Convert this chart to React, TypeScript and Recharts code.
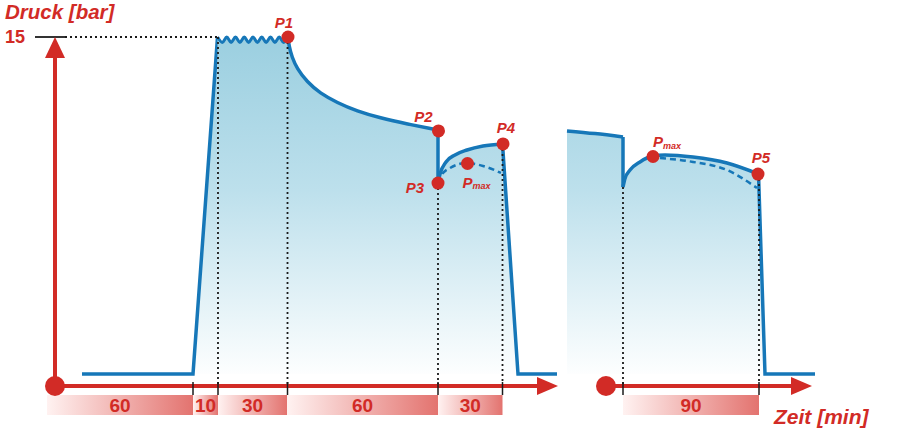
import React from 'react';
import {
  ComposedChart,
  Area,
  Line,
  Scatter,
  XAxis,
  YAxis,
  ReferenceArea,
  ReferenceDot,
} from 'recharts';

// ---------- data (x: schematic time position along the axis, p: pressure in bar) ----------
const leftRise = [
  { x: 27, p: 0 },
  { x: 138, p: 0 },
  { x: 162.5, p: 15 },
];
const leftPlateau = [
  { x: 162.5, p: 15 }, { x: 167.4, p: 14.76 }, { x: 171.75, p: 15 }, { x: 176.1, p: 14.76 },
  { x: 180.5, p: 15 }, { x: 184.9, p: 14.76 }, { x: 189.25, p: 15 }, { x: 193.6, p: 14.76 },
  { x: 198, p: 15 }, { x: 202.4, p: 14.76 }, { x: 206.75, p: 15 }, { x: 211.1, p: 14.76 },
  { x: 215.5, p: 15 }, { x: 219.9, p: 14.76 }, { x: 224.25, p: 15 }, { x: 228.6, p: 14.76 },
  { x: 233, p: 15 },
];
const leftDecay = [
  { x: 233, p: 15 }, { x: 234, p: 14.6 }, { x: 237, p: 14.1 }, { x: 242, p: 13.6 },
  { x: 252, p: 13.0 }, { x: 265, p: 12.5 }, { x: 282, p: 12.08 }, { x: 302, p: 11.7 },
  { x: 325, p: 11.4 }, { x: 352, p: 11.13 }, { x: 383, p: 10.86 },
];
const leftDrop = [
  { x: 383, p: 10.86 },
  { x: 383, p: 8.5 },
];
const leftRecover = [
  { x: 383, p: 8.5 }, { x: 385, p: 8.9 }, { x: 391, p: 9.44 }, { x: 400, p: 9.75 },
  { x: 412, p: 9.97 }, { x: 428, p: 10.15 }, { x: 447.5, p: 10.24 },
];
const leftRelease = [
  { x: 447.5, p: 10.24 },
  { x: 463, p: 0 },
  { x: 502, p: 0 },
];
const leftDashed = [
  { x: 383, p: 8.5 }, { x: 386, p: 8.82 }, { x: 395, p: 9.17 }, { x: 412, p: 9.39 },
  { x: 428, p: 9.26 }, { x: 446, p: 8.95 },
];

const rightTop = [
  { x: 512, p: 10.82 },
  { x: 540, p: 10.7 },
  { x: 568, p: 10.55 },
];
const rightDrop = [
  { x: 568, p: 10.55 },
  { x: 568, p: 8.32 },
];
const rightRecover = [
  { x: 568, p: 8.32 }, { x: 570, p: 8.7 }, { x: 575, p: 9.08 }, { x: 585, p: 9.44 },
  { x: 598, p: 9.7 }, { x: 610, p: 9.75 }, { x: 638, p: 9.66 }, { x: 672, p: 9.39 },
  { x: 703.5, p: 8.9 },
];
const rightRelease = [
  { x: 703.5, p: 8.9 },
  { x: 710, p: 0 },
  { x: 760, p: 0 },
];
const rightDashed = [
  { x: 605, p: 9.61 }, { x: 638, p: 9.44 }, { x: 672, p: 9.08 }, { x: 702, p: 8.28 },
];

const namedPoints = [
  { name: 'P1', x: 233, p: 15 },
  { name: 'P2', x: 383.5, p: 10.82 },
  { name: 'P3', x: 383, p: 8.5 },
  { name: 'P4', x: 448, p: 10.24 },
  { name: 'P5', x: 703, p: 8.9 },
];
const maxPoints = [
  { name: 'Pmax-left', x: 412.5, p: 9.37 },
  { name: 'Pmax-right', x: 598, p: 9.68 },
];

const phaseBounds = [-8, 138, 163, 232, 383, 447.5];
const phaseLabels = ['60', '10', '30', '60', '30'];
const rightPhase = { from: 568, to: 704, label: '90' };

const dividers = [
  { x: 163, top: 15 },
  { x: 232.5, top: 15 },
  { x: 383, top: 8.5 },
  { x: 447.5, top: 10.24 },
  { x: 568, top: 8.32 },
  { x: 704, top: 8.9 },
];
const tickXs = [138, 163, 232.5, 383, 447.5, 568, 704];

const pressureTick = 15;
const axisLevel = -0.534;
const leftAxisEnd = 503;
const rightOrigin = 551;
const rightAxisEnd = 757;

// ---------- styles ----------
const FONT = '"Liberation Sans", Arial, Helvetica, sans-serif';
const RED = '#d22b26';
const BLUE = '#1677b8';
const LABEL_OFFSETS: Record<string, [number, number]> = {
  P1: [-4, -15],
  P2: [-15, -14],
  P3: [-23, 4],
  P4: [3, -16],
  P5: [3, -17],
};

const W = 901;
const H = 443;

const areaProps = {
  dataKey: 'p',
  stroke: BLUE,
  strokeWidth: 3.5,
  fill: 'url(#pressFill)',
  fillOpacity: 1,
  baseValue: 0,
  isAnimationActive: false,
  dot: false,
  activeDot: false,
} as const;

const pointShape = (props: any) => {
  const { cx, cy, payload } = props;
  const off = LABEL_OFFSETS[payload.name] || [0, 0];
  return (
    <g>
      <circle cx={cx} cy={cy} r={6.5} fill={RED} />
      <text
        x={cx + off[0]}
        y={cy + off[1]}
        textAnchor="middle"
        dominantBaseline="central"
        fontFamily={FONT}
        fontWeight="bold"
        fontStyle="italic"
        fontSize={15}
        fill={RED}
      >
        {payload.name}
      </text>
    </g>
  );
};

const maxShape = (props: any) => {
  const { cx, cy, payload } = props;
  const left = payload.name === 'Pmax-left';
  const tx = left ? cx - 5 : cx + 0;
  const ty = left ? cy + 19 : cy - 15;
  return (
    <g>
      <circle cx={cx} cy={cy} r={6.5} fill={RED} />
      <text
        x={tx}
        y={ty}
        dominantBaseline="central"
        fontFamily={FONT}
        fontWeight="bold"
        fontStyle="italic"
        fontSize={15}
        fill={RED}
      >
        P
        <tspan fontSize={9} dy={4}>max</tspan>
      </text>
    </g>
  );
};

const textShape = (text: string, size: number, anchor: string, italic: boolean) => (props: any) => (
  <text
    x={props.cx}
    y={props.cy}
    textAnchor={anchor as any}
    fontFamily={FONT}
    fontWeight="bold"
    fontStyle={italic ? 'italic' : 'normal'}
    fontSize={size}
    fill={RED}
  >
    {text}
  </text>
);

const upArrow = (props: any) => {
  const { cx, cy } = props;
  return <polygon points={`${cx},${cy} ${cx - 10},${cy + 21} ${cx + 10},${cy + 21}`} fill={RED} />;
};
const rightArrow = (props: any) => {
  const { cx, cy } = props;
  return <polygon points={`${cx},${cy} ${cx - 21},${cy - 9} ${cx - 21},${cy + 9}`} fill={RED} />;
};

const segLine = (key: string, data: { x: number; p: number }[], stroke: string, width: number, dash?: string) => (
  <Line
    key={key}
    data={data}
    dataKey="p"
    type="linear"
    stroke={stroke}
    strokeWidth={width}
    strokeDasharray={dash}
    dot={false}
    activeDot={false}
    isAnimationActive={false}
  />
);

export default function App() {
  const phases = phaseLabels.map((label, i) => ({
    from: phaseBounds[i],
    to: phaseBounds[i + 1],
    label,
  }));
  phases.push(rightPhase);

  return (
    <div style={{ position: 'absolute', left: 0, top: 0, width: W, height: H, background: '#fff' }}>
      <ComposedChart width={W} height={H} margin={{ top: 0, right: 0, bottom: 0, left: 0 }}>
        <defs>
          <linearGradient id="pressFill" gradientUnits="userSpaceOnUse" x1="0" y1="37" x2="0" y2="380">
            <stop offset="0" stopColor="#9bcfe0" />
            <stop offset="0.45" stopColor="#bde0ec" />
            <stop offset="1" stopColor="#ffffff" />
          </linearGradient>
          <linearGradient id="barFill" x1="0" y1="0" x2="1" y2="0">
            <stop offset="0" stopColor="#fff2f1" />
            <stop offset="1" stopColor="#e3736f" />
          </linearGradient>
        </defs>
        <XAxis type="number" dataKey="x" domain={[-55, 846]} hide allowDataOverflow />
        <YAxis type="number" dataKey="p" domain={[-3.0712, 16.647]} hide allowDataOverflow />

        {phases.map((ph, i) => (
          <ReferenceArea
            key={'ph' + i}
            x1={ph.from}
            x2={ph.to}
            y1={-0.935}
            y2={-1.825}
            fill="url(#barFill)"
            fillOpacity={1}
            stroke="none"
            ifOverflow="visible"
            label={{ value: ph.label, position: 'center', fill: RED, fontSize: 19, fontWeight: 'bold', fontFamily: FONT }}
          />
        ))}

        <Area data={leftRise} type="linear" {...areaProps} />
        <Area data={leftPlateau} type="monotone" {...areaProps} strokeWidth={3} />
        <Area data={leftDecay} type="basis" {...areaProps} />
        <Area data={leftDrop} type="linear" {...areaProps} />
        <Area data={leftRecover} type="monotone" {...areaProps} />
        <Area data={leftRelease} type="linear" {...areaProps} />
        <Area data={rightTop} type="monotone" {...areaProps} />
        <Area data={rightDrop} type="linear" {...areaProps} />
        <Area data={rightRecover} type="monotone" {...areaProps} />
        <Area data={rightRelease} type="linear" {...areaProps} />

        <Line data={leftDashed} dataKey="p" type="monotone" stroke={BLUE} strokeWidth={2.5} strokeDasharray="6 4" dot={false} activeDot={false} isAnimationActive={false} />
        <Line data={rightDashed} dataKey="p" type="monotone" stroke={BLUE} strokeWidth={2.5} strokeDasharray="6 4" dot={false} activeDot={false} isAnimationActive={false} />

        {dividers.map((d, i) =>
          segLine('dv' + i, [{ x: d.x, p: d.top }, { x: d.x, p: axisLevel }], '#1a1a1a', 1.8, '2 3')
        )}
        {segLine('hl15', [{ x: 10, p: pressureTick }, { x: 163, p: pressureTick }], '#1a1a1a', 1.8, '2 3')}
        {segLine('tk15', [{ x: -20, p: pressureTick }, { x: 10, p: pressureTick }], '#333', 2)}

        {/* axes */}
        {segLine('yax', [{ x: 0, p: axisLevel }, { x: 0, p: 14.2 }], RED, 4)}
        {segLine('xax1', [{ x: 0, p: axisLevel }, { x: leftAxisEnd - 18, p: axisLevel }], RED, 4)}
        {segLine('xax2', [{ x: rightOrigin, p: axisLevel }, { x: rightAxisEnd - 18, p: axisLevel }], RED, 4)}

        {tickXs.map((t, i) => segLine('tk' + i, [{ x: t, p: -0.356 }, { x: t, p: -0.935 }], '#1a1a1a', 1.5))}

        <Scatter data={namedPoints} dataKey="p" shape={pointShape} isAnimationActive={false} />
        <Scatter data={maxPoints} dataKey="p" shape={maxShape} isAnimationActive={false} />

        <ReferenceDot x={0} y={pressureTick} r={0} shape={upArrow} ifOverflow="visible" />
        <ReferenceDot x={leftAxisEnd} y={axisLevel} r={0} shape={rightArrow} ifOverflow="visible" />
        <ReferenceDot x={rightAxisEnd} y={axisLevel} r={0} shape={rightArrow} ifOverflow="visible" />
        <ReferenceDot x={0} y={axisLevel} r={10} fill={RED} stroke="none" ifOverflow="visible" />
        <ReferenceDot x={rightOrigin} y={axisLevel} r={10} fill={RED} stroke="none" ifOverflow="visible" />

        <ReferenceDot x={-50} y={15.8} r={0} shape={textShape('Druck [bar]', 20.5, 'start', true)} ifOverflow="visible" />
        <ReferenceDot x={-50} y={14.72} r={0} shape={textShape('15', 18, 'start', false)} ifOverflow="visible" />
        <ReferenceDot x={719} y={-2.225} r={0} shape={textShape('Zeit [min]', 21, 'start', true)} ifOverflow="visible" />
      </ComposedChart>
    </div>
  );
}
